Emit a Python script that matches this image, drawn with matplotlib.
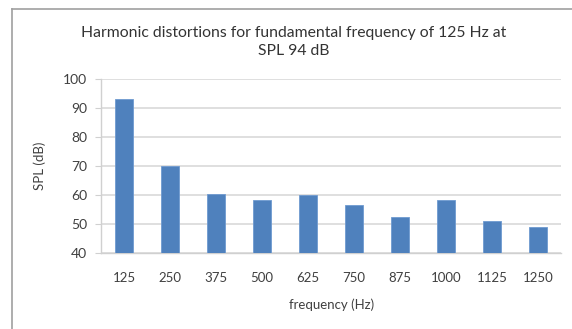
import matplotlib.pyplot as plt
from matplotlib.lines import Line2D

freqs = ['125', '250', '375', '500', '625', '750', '875', '1000', '1125', '1250']
spl_db = [93.0, 70.0, 60.4, 58.2, 59.9, 56.4, 52.3, 58.2, 51.1, 49.1]

plt.rcParams['font.family'] = ['Lato', 'DejaVu Sans']

fig = plt.figure(figsize=(5.72, 3.29), dpi=100)
ax = fig.add_axes([0.1766, 0.231, 0.8044, 0.529])

x = range(len(freqs))
ax.bar(x, spl_db, width=0.4, color='#4F81BD', edgecolor='#6F9AD0', linewidth=0.6, zorder=3)

ax.set_ylim(40, 100)
ax.set_xlim(-0.5, len(freqs) - 0.5)
ax.set_yticks(range(40, 101, 10))
ax.set_xticks(list(x))
ax.set_xticklabels(freqs)
ax.yaxis.grid(True, color='#D9D9D9', linewidth=1.2, zorder=0)

for side in ['top', 'right']:
    ax.spines[side].set_visible(False)
for side in ['left', 'bottom']:
    ax.spines[side].set_color('#D0D0D0')
    ax.spines[side].set_linewidth(1.0)

ax.tick_params(axis='y', colors='#D0D0D0', labelcolor='#404040', labelsize=10, length=4, pad=6)
ax.tick_params(axis='x', length=0, labelcolor='#404040', labelsize=9.5, pad=14)

ax.set_xlabel('frequency (Hz)', fontsize=9.5, color='#404040', labelpad=10)
ax.set_ylabel('SPL (dB)', fontsize=9.5, color='#404040', labelpad=12)

fig.text(0.514, 0.872, 'Harmonic distortions for fundamental frequency of 125 Hz at\nSPL 94 dB',
         ha='center', va='center', fontsize=11.3, color='#333333', linespacing=1.3)

# outer chart frame (only top and left visible in the crop)
fig.add_artist(Line2D([0.021, 1.0], [0.973, 0.973], transform=fig.transFigure, color='#A0A0A0', linewidth=1.2))
fig.add_artist(Line2D([0.021, 0.021], [0.0, 0.973], transform=fig.transFigure, color='#A0A0A0', linewidth=1.2))

fig.savefig('out.png', dpi=100)
